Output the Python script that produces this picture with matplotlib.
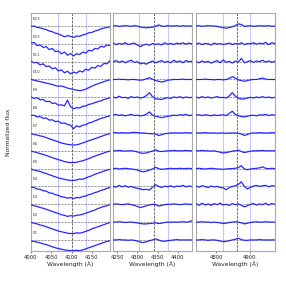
import matplotlib
matplotlib.use("Agg")
import matplotlib.pyplot as plt
import numpy as np

# epoch labels, bottom (E1) to top (E13)
labels = ['E%d' % k for k in range(1, 14)]
step = 0.5  # vertical offset between epochs

# wavelength grids (A)
hd_wave = [4000, 4007.5, 4015, 4022.5, 4030, 4037.5, 4045, 4052.5, 4060, 4067.5,
           4075, 4082.5, 4090, 4097.5, 4105, 4112.5, 4120, 4127.5, 4135, 4142.5,
           4150, 4157.5, 4165, 4172.5, 4180, 4187.5, 4195]
hg_wave = [4240, 4247.5, 4255, 4262.5, 4270, 4277.5, 4285, 4292.5, 4300, 4307.5,
           4315, 4322.5, 4330, 4337.5, 4345, 4352.5, 4360, 4367.5, 4375, 4382.5,
           4390, 4397.5, 4405, 4412.5, 4420, 4427.5, 4435]
hb_wave = [4740, 4749, 4758, 4767, 4776, 4785, 4794, 4803, 4812, 4821,
           4830, 4839, 4848, 4857, 4866, 4875, 4884, 4893, 4902, 4911,
           4920, 4929, 4938, 4947, 4956, 4965, 4974]

# normalized flux, E1 ... E13
hd_flux = [
    [0.97, 0.96, 0.94, 0.92, 0.89, 0.87, 0.84, 0.81, 0.78, 0.76, 0.74, 0.72, 0.71, 0.70, 0.70, 0.71, 0.70, 0.72, 0.75, 0.78, 0.81, 0.84, 0.87, 0.90, 0.93, 0.96, 0.98],
    [0.99, 0.97, 0.95, 0.92, 0.90, 0.87, 0.84, 0.81, 0.78, 0.75, 0.73, 0.71, 0.69, 0.68, 0.68, 0.70, 0.69, 0.71, 0.74, 0.77, 0.81, 0.84, 0.87, 0.90, 0.93, 0.96, 0.99],
    [0.99, 0.96, 0.94, 0.91, 0.89, 0.86, 0.83, 0.80, 0.77, 0.74, 0.71, 0.69, 0.66, 0.68, 0.67, 0.69, 0.70, 0.72, 0.75, 0.78, 0.81, 0.84, 0.88, 0.91, 0.94, 0.96, 0.99],
    [0.98, 0.97, 0.93, 0.92, 0.88, 0.87, 0.82, 0.81, 0.77, 0.75, 0.71, 0.70, 0.67, 0.69, 0.66, 0.69, 0.68, 0.72, 0.73, 0.77, 0.79, 0.83, 0.85, 0.89, 0.91, 0.95, 0.97],
    [0.99, 0.96, 0.94, 0.92, 0.89, 0.86, 0.83, 0.80, 0.77, 0.74, 0.72, 0.70, 0.68, 0.67, 0.67, 0.68, 0.71, 0.70, 0.74, 0.77, 0.80, 0.84, 0.87, 0.90, 0.93, 0.96, 0.98],
    [0.99, 0.97, 0.95, 0.92, 0.90, 0.87, 0.84, 0.81, 0.78, 0.75, 0.73, 0.70, 0.68, 0.67, 0.67, 0.68, 0.70, 0.72, 0.75, 0.78, 0.82, 0.85, 0.88, 0.91, 0.94, 0.97, 0.99],
    [0.98, 0.96, 0.94, 0.92, 0.90, 0.87, 0.84, 0.81, 0.78, 0.75, 0.72, 0.70, 0.68, 0.67, 0.66, 0.67, 0.69, 0.72, 0.75, 0.78, 0.81, 0.84, 0.87, 0.90, 0.93, 0.96, 0.98],
    [0.99, 1.00, 0.95, 0.96, 0.91, 0.92, 0.86, 0.87, 0.82, 0.83, 0.77, 0.78, 0.74, 0.72, 0.62, 0.70, 0.67, 0.72, 0.73, 0.78, 0.80, 0.84, 0.87, 0.91, 0.93, 0.96, 0.98],
    [1.01, 0.97, 0.99, 0.93, 0.94, 0.88, 0.89, 0.83, 0.84, 0.78, 0.79, 0.76, 0.92, 0.74, 0.68, 0.71, 0.70, 0.75, 0.76, 0.80, 0.82, 0.85, 0.88, 0.90, 0.94, 0.96, 0.99],
    [1.00, 0.98, 0.96, 0.94, 0.92, 0.90, 0.88, 0.86, 0.83, 0.81, 0.82, 0.79, 0.76, 0.74, 0.72, 0.70, 0.69, 0.70, 0.73, 0.77, 0.81, 0.85, 0.88, 0.91, 0.94, 0.97, 0.99],
    [1.01, 0.97, 0.98, 0.91, 0.94, 0.86, 0.88, 0.80, 0.83, 0.74, 0.77, 0.69, 0.73, 0.66, 0.71, 0.68, 0.74, 0.71, 0.79, 0.76, 0.84, 0.82, 0.89, 0.87, 0.95, 0.94, 1.03],
    [1.02, 1.04, 0.95, 0.97, 0.90, 0.92, 0.84, 0.87, 0.78, 0.80, 0.72, 0.77, 0.68, 0.73, 0.66, 0.72, 0.70, 0.77, 0.74, 0.82, 0.80, 0.87, 0.86, 0.93, 0.91, 0.97, 0.95],
    [0.99, 1.00, 0.96, 0.95, 0.92, 0.90, 0.86, 0.84, 0.80, 0.78, 0.74, 0.70, 0.73, 0.71, 0.68, 0.72, 0.71, 0.75, 0.77, 0.81, 0.82, 0.86, 0.88, 0.92, 0.94, 0.96, 0.98],
]
hg_flux = [
    [1.00, 1.00, 1.01, 1.00, 1.00, 0.99, 1.00, 0.99, 0.97, 0.94, 0.93, 0.95, 0.98, 1.00, 1.03, 1.00, 0.97, 0.96, 0.98, 0.99, 1.00, 1.01, 1.00, 1.00, 1.00, 1.00, 1.00],
    [1.00, 1.00, 1.01, 1.00, 0.99, 1.00, 1.00, 0.99, 0.98, 0.96, 0.95, 0.95, 0.96, 0.97, 0.98, 0.96, 0.97, 0.99, 1.00, 1.00, 1.00, 1.00, 1.00, 1.01, 1.00, 1.01, 1.04],
    [1.00, 1.01, 1.00, 0.99, 1.00, 1.01, 0.99, 0.97, 0.94, 0.91, 0.93, 0.96, 0.98, 1.00, 0.99, 0.95, 0.97, 0.99, 1.00, 1.00, 1.01, 1.00, 0.99, 1.00, 1.01, 1.00, 1.00],
    [1.01, 0.98, 1.03, 0.99, 1.02, 0.98, 1.00, 0.97, 0.95, 0.93, 0.91, 0.92, 0.90, 0.98, 1.05, 1.00, 0.97, 1.01, 0.99, 1.02, 0.98, 1.01, 1.00, 1.03, 0.99, 1.01, 1.00],
    [1.00, 1.01, 0.99, 1.00, 1.01, 1.00, 0.99, 0.98, 0.96, 0.93, 0.91, 0.93, 0.96, 0.99, 1.04, 1.00, 0.98, 0.99, 1.00, 1.01, 1.00, 1.00, 1.01, 1.00, 1.00, 1.01, 1.00],
    [1.00, 1.00, 1.01, 1.00, 0.99, 1.00, 1.00, 0.99, 0.97, 0.94, 0.93, 0.94, 0.97, 0.99, 1.03, 0.99, 0.98, 0.99, 1.00, 1.00, 1.01, 1.00, 1.00, 1.00, 1.01, 1.00, 1.00],
    [1.01, 1.01, 1.00, 1.01, 1.00, 1.00, 1.01, 1.02, 1.01, 1.00, 1.00, 0.99, 0.98, 0.98, 0.97, 0.93, 0.95, 0.98, 0.99, 1.00, 1.00, 1.00, 1.00, 1.00, 1.01, 1.00, 1.00],
    [1.00, 1.02, 0.99, 1.01, 0.98, 1.00, 1.02, 0.99, 1.00, 0.98, 0.99, 1.03, 1.09, 1.00, 0.97, 0.95, 0.93, 0.95, 0.97, 0.98, 1.00, 0.99, 1.01, 1.00, 1.02, 0.99, 1.00],
    [1.01, 0.98, 1.03, 0.99, 1.00, 0.97, 1.02, 0.99, 1.01, 0.98, 1.00, 1.05, 1.13, 1.02, 0.96, 0.95, 0.94, 0.97, 0.99, 0.97, 1.01, 0.99, 1.02, 0.98, 1.01, 0.99, 1.00],
    [1.00, 1.00, 1.01, 1.00, 1.00, 0.99, 1.00, 1.00, 0.99, 0.98, 0.99, 1.02, 1.05, 1.01, 0.97, 0.95, 0.93, 0.95, 0.98, 0.99, 1.00, 1.00, 1.00, 1.01, 1.00, 1.00, 1.00],
    [0.99, 1.03, 0.98, 1.02, 0.97, 1.01, 1.04, 0.98, 1.00, 0.94, 0.96, 0.93, 0.98, 1.02, 0.97, 1.00, 1.03, 0.98, 1.01, 0.97, 1.04, 0.99, 1.02, 0.97, 1.03, 1.00, 1.01],
    [1.02, 0.98, 1.01, 0.99, 1.03, 0.98, 1.00, 1.02, 0.97, 0.92, 0.97, 0.99, 0.96, 1.01, 0.98, 1.00, 0.97, 1.03, 0.99, 1.01, 0.98, 1.02, 1.00, 1.03, 0.99, 1.02, 1.00],
    [1.00, 1.01, 0.99, 1.00, 1.01, 1.00, 0.99, 1.01, 1.00, 0.97, 0.96, 0.95, 0.96, 0.97, 0.99, 1.03, 1.00, 0.99, 1.01, 1.00, 1.00, 1.01, 0.99, 1.01, 1.00, 1.00, 1.00],
]
hb_flux = [
    [1.00, 1.00, 1.01, 1.00, 0.99, 1.00, 1.00, 0.99, 0.97, 0.95, 0.96, 0.98, 1.00, 1.02, 1.05, 1.01, 0.99, 0.99, 1.00, 1.00, 1.00, 1.01, 1.00, 1.00, 1.00, 1.00, 1.00],
    [1.00, 1.00, 1.01, 1.00, 1.00, 0.99, 1.00, 0.99, 0.98, 0.96, 0.97, 0.99, 1.00, 1.01, 1.00, 0.98, 0.95, 0.97, 0.99, 1.00, 1.01, 1.00, 1.00, 1.01, 1.00, 1.00, 1.00],
    [1.02, 0.97, 1.03, 0.98, 1.01, 0.97, 1.02, 0.99, 1.03, 0.98, 1.00, 0.97, 1.02, 0.99, 1.01, 0.97, 0.93, 0.96, 1.00, 1.02, 0.98, 1.01, 0.99, 1.03, 0.98, 1.02, 1.00],
    [1.01, 0.98, 1.02, 1.00, 0.97, 1.01, 0.99, 1.00, 0.97, 0.96, 0.91, 0.97, 1.00, 1.02, 1.06, 1.13, 1.00, 0.93, 0.98, 1.01, 1.03, 1.00, 1.02, 1.03, 0.99, 1.02, 1.01],
    [1.00, 1.01, 1.00, 0.99, 1.00, 1.01, 1.00, 0.99, 0.99, 0.98, 0.99, 1.00, 1.00, 1.01, 1.03, 1.08, 0.99, 0.97, 0.99, 1.00, 1.01, 1.02, 1.05, 1.01, 1.00, 1.01, 1.00],
    [1.00, 1.00, 1.01, 1.00, 1.00, 0.99, 1.00, 0.98, 0.96, 0.94, 0.95, 0.97, 0.99, 1.00, 1.02, 0.98, 0.95, 0.97, 0.99, 1.00, 1.00, 1.00, 1.01, 1.00, 1.00, 1.00, 1.00],
    [1.00, 1.00, 1.00, 1.01, 1.00, 1.00, 1.00, 0.99, 1.00, 1.00, 0.99, 1.00, 1.00, 1.00, 0.99, 0.97, 0.93, 0.96, 0.99, 1.00, 1.00, 1.01, 1.00, 1.00, 1.00, 1.01, 1.00],
    [1.00, 1.01, 0.99, 1.01, 1.00, 0.98, 1.01, 0.99, 1.00, 1.01, 0.99, 1.05, 1.11, 1.02, 0.98, 0.96, 0.95, 0.97, 0.99, 1.00, 0.98, 1.01, 1.00, 1.02, 0.99, 1.01, 1.00],
    [1.01, 0.98, 1.02, 0.99, 1.01, 0.98, 1.00, 1.02, 0.99, 1.00, 0.98, 1.04, 1.13, 1.03, 0.98, 0.95, 0.96, 0.98, 1.00, 0.98, 1.01, 0.99, 1.02, 0.99, 1.01, 0.98, 1.00],
    [1.00, 1.00, 1.00, 1.01, 1.00, 1.00, 0.99, 1.00, 1.00, 0.99, 1.00, 1.03, 1.08, 1.04, 0.99, 0.97, 0.95, 0.97, 0.99, 1.00, 1.00, 1.02, 1.04, 1.01, 1.00, 1.00, 1.00],
    [1.00, 0.97, 1.02, 0.98, 1.01, 0.96, 1.00, 1.03, 0.97, 1.05, 0.98, 1.01, 0.96, 1.02, 0.99, 1.09, 0.97, 1.00, 1.03, 0.98, 1.02, 1.00, 1.04, 0.99, 1.02, 0.98, 1.01],
    [0.99, 1.02, 0.98, 1.01, 1.00, 0.97, 1.02, 0.99, 1.01, 0.98, 1.00, 1.02, 0.98, 1.01, 0.99, 1.03, 0.98, 1.01, 1.00, 1.03, 0.99, 1.02, 1.00, 1.04, 0.98, 1.03, 1.01],
    [1.00, 1.01, 0.99, 1.00, 1.01, 1.00, 1.00, 0.99, 0.97, 0.95, 0.94, 0.96, 0.98, 1.01, 1.06, 1.04, 0.99, 1.00, 1.01, 0.99, 1.00, 1.01, 1.00, 1.00, 1.01, 0.99, 1.00],
]

# line centre and +-2500 km/s window for each panel
centers = [4101.7, 4340.5, 4861.3]
windows = [(4067.5, 4135.9), (4304.3, 4376.7), (4820.8, 4901.8)]
xlims = [(4000, 4195), (4240, 4435), (4740, 4975)]
xticks = [[4000, 4050, 4100, 4150], [4250, 4300, 4350, 4400], [4800, 4900]]

waves = [hd_wave, hg_wave, hb_wave]
fluxes = [hd_flux, hg_flux, hb_flux]

fig = plt.figure(figsize=(2.86, 2.90), dpi=100)
lefts = [31 / 286, 113 / 286, 196 / 286]
for p in range(3):
    ax = fig.add_axes([lefts[p], 39 / 290, 79 / 286, 238 / 290])
    ax.axvline(windows[p][0], color='#c8c8ff', lw=0.8, zorder=0)
    ax.axvline(windows[p][1], color='#c8c8ff', lw=0.8, zorder=0)
    ax.axvline(centers[p], color='#333333', ls='--', lw=0.5, zorder=1)
    for i, fl in enumerate(fluxes[p]):
        off = i * step
        ax.axhline(1 + off, color='#666666', ls='--', lw=0.45, zorder=1)
        y = np.array(fl) + off
        ax.plot(waves[p], y, color='#8a8aff', lw=1.2, alpha=0.5, zorder=2)
        ax.plot(waves[p], y, color='#1616ff', lw=0.7, zorder=3)
        if p == 0:
            ax.text(xlims[p][0] + 3, 1 + off + 0.2, labels[i], fontsize=3,
                    color='#444444', va='center', ha='left')
    ax.set_xlim(*xlims[p])
    ax.set_ylim(0.69, 1 + 12 * step + 0.365)
    ax.set_xticks(xticks[p])
    ax.set_yticks([])
    ax.tick_params(axis='x', labelsize=3.8, length=1.5, width=0.4, pad=1.2,
                   colors='#222222')
    for s in ax.spines.values():
        s.set_color('#aaaaaa')
        s.set_linewidth(0.8)
    ax.set_xlabel('Wavelength (Å)', fontsize=4.3, labelpad=1.5, color='#222222')

fig.text(9 / 286, 0.545, 'Normalized flux', rotation=90, fontsize=4.3,
         va='center', ha='center', color='#222222')

fig.savefig('out.png', dpi=100)
